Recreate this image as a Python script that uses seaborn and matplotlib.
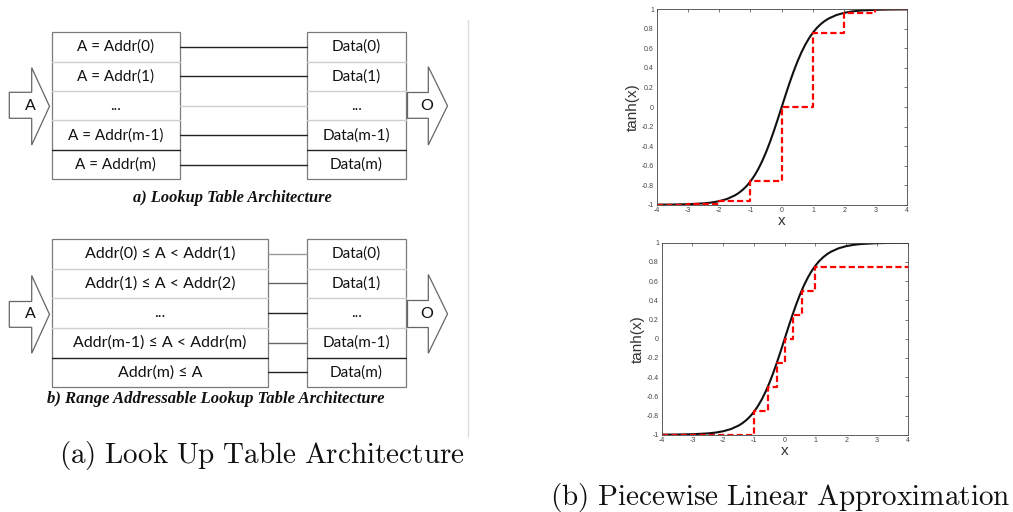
import matplotlib
matplotlib.use("Agg")
import matplotlib.pyplot as plt
from matplotlib.patches import Polygon, Rectangle
import seaborn as sns

# ---------------- data ----------------
curve_x = [-4, -3.5, -3, -2.5, -2.25, -2, -1.75, -1.5, -1.375, -1.25, -1.125, -1,
           -0.875, -0.75, -0.625, -0.5, -0.375, -0.25, -0.125, 0,
           0.125, 0.25, 0.375, 0.5, 0.625, 0.75, 0.875, 1,
           1.125, 1.25, 1.375, 1.5, 1.75, 2, 2.25, 2.5, 3, 3.5, 4]
curve_y = [-0.9993, -0.9982, -0.9951, -0.9866, -0.9780, -0.9640, -0.9414, -0.9051, -0.8800, -0.8483, -0.8096, -0.7616,
           -0.7039, -0.6351, -0.5546, -0.4621, -0.3584, -0.2449, -0.1244, 0.0,
           0.1244, 0.2449, 0.3584, 0.4621, 0.5546, 0.6351, 0.7039, 0.7616,
           0.8096, 0.8483, 0.8800, 0.9051, 0.9414, 0.9640, 0.9780, 0.9866, 0.9951, 0.9982, 0.9993]

step1_x = [-4, -3, -2, -1, 0, 1, 2, 3, 4]
step1_y = [-0.999, -0.995, -0.964, -0.762, 0.0, 0.762, 0.964, 0.998, 0.998]

step2_x = [-4, -1.0, -0.55, -0.26, 0, 0.26, 0.57, 1.0, 4]
step2_y = [-1.0, -0.75, -0.5, -0.25, 0.0, 0.25, 0.5, 0.75, 0.75]

xtick_vals = [-4, -3, -2, -1, 0, 1, 2, 3, 4]
xtick_labels = ["-4", "-3", "-2", "-1", "0", "1", "2", "3", "4"]
ytick_vals = [-1, -0.8, -0.6, -0.4, -0.2, 0, 0.2, 0.4, 0.6, 0.8, 1]
ytick_labels = ["-1", "-0.8", "-0.6", "-0.4", "-0.2", "0", "0.2", "0.4", "0.6", "0.8", "1"]

lut_addr = ["A = Addr(0)", "A = Addr(1)", "...", "A = Addr(m-1)", "A = Addr(m)"]
range_addr = ["Addr(0) \u2264 A < Addr(1)", "Addr(1) \u2264 A < Addr(2)", "...",
              "Addr(m-1) \u2264 A < Addr(m)", "Addr(m) \u2264 A"]
data_labels = ["Data(0)", "Data(1)", "...", "Data(m-1)", "Data(m)"]

# ---------------- style ----------------
sns.set_style("white")
plt.rcParams["font.family"] = ["Liberation Sans", "DejaVu Sans"]
plt.rcParams["axes.unicode_minus"] = False
plt.rcParams["mathtext.fontset"] = "cm"

W, H = 1013, 512
fig = plt.figure(figsize=(W / 100, H / 100), dpi=100)

# overlay axes in pixel coordinates for the diagram
ax0 = fig.add_axes([0, 0, 1, 1])
ax0.set_xlim(0, W)
ax0.set_ylim(H, 0)
ax0.axis("off")

DIAG_FONT = ["Lato", "DejaVu Sans"]
OUT = "#7a7a7a"
LIGHT = "#cfcfcf"
DARK = "#222222"


def draw_table(x0, x1, y0, y1, labels, dark_sep=(4,), fs=11):
    n = len(labels)
    rh = (y1 - y0) / n
    for i in range(1, n):
        y = y0 + i * rh
        ax0.plot([x0, x1], [y, y], color=DARK if i in dark_sep else LIGHT, lw=1.0)
    ax0.add_patch(Rectangle((x0, y0), x1 - x0, y1 - y0, fill=False, ec=OUT, lw=0.9))
    for i, lab in enumerate(labels):
        ax0.text((x0 + x1) / 2, y0 + (i + 0.5) * rh, lab, ha="center", va="center",
                 fontsize=fs, family=DIAG_FONT, color="#111111")
    return rh


def draw_arrow(bx0, bx1, by0, by1, hy0, hy1, tip, label, lx):
    pts = [(bx0, by0), (bx1, by0), (bx1, hy0), (tip, (hy0 + hy1) / 2),
           (bx1, hy1), (bx1, by1), (bx0, by1)]
    ax0.add_patch(Polygon(pts, closed=True, fc="white", ec="#666666", lw=0.9))
    ax0.text(lx, (hy0 + hy1) / 2, label, ha="center", va="center",
             fontsize=11.5, family=DIAG_FONT, color="#111111")


# --- table a ---
ta_y0, ta_y1 = 32.3, 179.3
rh = draw_table(51.7, 180, ta_y0, ta_y1, lut_addr, fs=11)
draw_table(306.7, 406, ta_y0, ta_y1, data_labels, fs=11)
conn_colors_a = [DARK, DARK, LIGHT, DARK, DARK]
for i, c in enumerate(conn_colors_a):
    y = ta_y0 + (i + 0.5) * rh
    ax0.plot([180, 306.7], [y, y], color=c, lw=1.0)
draw_arrow(9.3, 31.7, 92.3, 118.3, 67.7, 145, 49.5, "A", 30)
draw_arrow(407.5, 428.3, 92.5, 118.3, 66.7, 145, 447.5, "O", 427)
ax0.text(232, 198, "a) Lookup Table Architecture", ha="center", va="center",
         fontsize=11.8, family="Liberation Serif", fontweight="bold", style="italic", color="#111111")

# --- table b ---
tb_y0, tb_y1 = 239, 387.3
rh = draw_table(51.7, 268, tb_y0, tb_y1, range_addr, fs=11.5)
draw_table(306.7, 406, tb_y0, tb_y1, data_labels, fs=11)
conn_colors_b = ["#999999", "#666666", DARK, "#666666", DARK]
for i, c in enumerate(conn_colors_b):
    y = tb_y0 + (i + 0.5) * rh
    ax0.plot([268, 306.7], [y, y], color=c, lw=1.0)
draw_arrow(9.3, 31.7, 301.5, 327.3, 275.5, 353.3, 49.5, "A", 30)
draw_arrow(407.5, 428.3, 300.5, 327.5, 274.5, 353.3, 447.5, "O", 427)
ax0.text(216, 399, "b) Range Addressable Lookup Table Architecture", ha="center", va="center",
         fontsize=12, family="Liberation Serif", fontweight="bold", style="italic", color="#111111")

# separator
ax0.plot([468, 468], [20, 437], color="#dddddd", lw=1.0)

# sub-captions
ax0.text(261.5, 456, r"$\mathrm{(a)\ Look\ Up\ Table\ Architecture}$", ha="center", va="center",
         fontsize=21, color="#111111")
ax0.text(780, 497, r"$\mathrm{(b)\ Piecewise\ Linear\ Approximation}$", ha="center", va="center",
         fontsize=21, color="#111111")


# ---------------- plots ----------------
def tanh_panel(rect, sx, sy):
    ax = fig.add_axes(rect)
    sns.lineplot(x=curve_x, y=curve_y, ax=ax, color="#111111", lw=1.5, sort=False, estimator=None)
    sns.lineplot(x=sx, y=sy, ax=ax, color="red", lw=1.6, sort=False, estimator=None,
                 drawstyle="steps-post", linestyle=(0, (2.8, 1.4)))
    ax.set_xlim(-4, 4)
    ax.set_ylim(-1, 1)
    ax.set_xticks(xtick_vals)
    ax.set_xticklabels(xtick_labels)
    ax.set_yticks(ytick_vals)
    ax.set_yticklabels(ytick_labels)
    ax.tick_params(direction="in", top=True, right=True, length=2.5, width=0.5,
                   labelsize=5, labelcolor="#444444", color="#444444", pad=2)
    for s in ax.spines.values():
        s.set_color("#444444")
        s.set_linewidth(0.6)
    ax.set_xlabel("x", fontsize=11, labelpad=0, color="#333333")
    ax.set_ylabel("tanh(x)", fontsize=11, labelpad=1, color="#333333")
    return ax


ax1 = tanh_panel([656.7 / W, 1 - 204.7 / H, 250 / W, 195.4 / H], step1_x, step1_y)
ax2 = tanh_panel([661.7 / W, 1 - 434.7 / H, 246 / W, 192 / H], step2_x, step2_y)

fig.savefig("out.png", dpi=100, facecolor="white")
